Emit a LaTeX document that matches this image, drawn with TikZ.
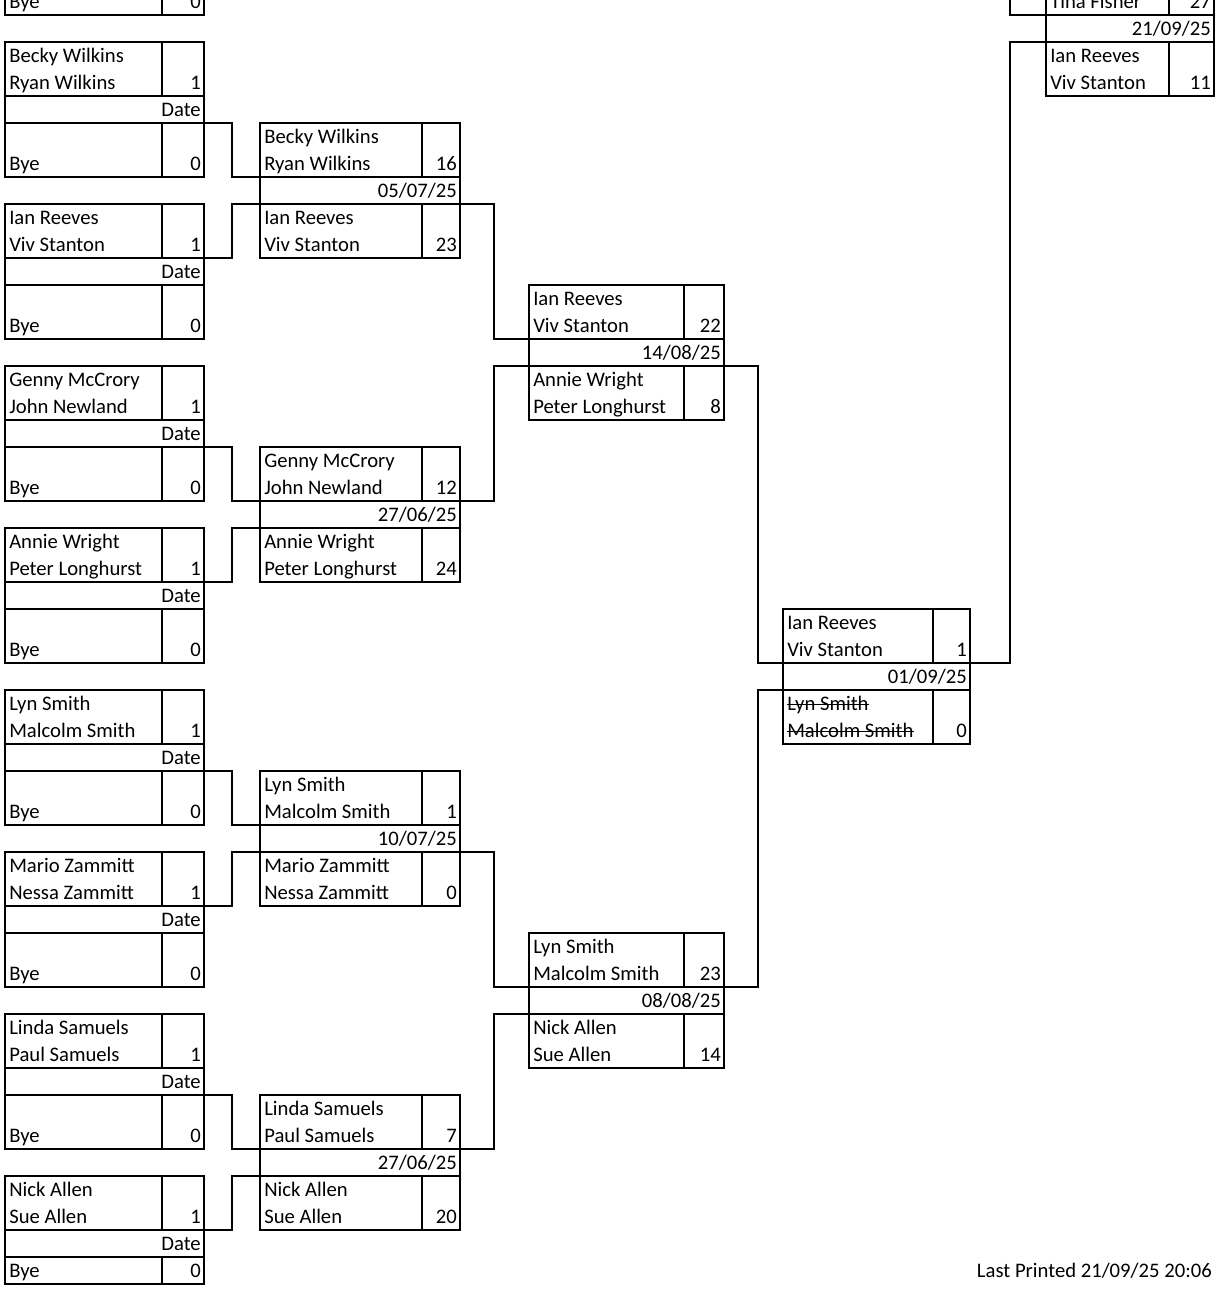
\documentclass[tikz,border=0pt]{standalone}
\usepackage{fontspec}
\setmainfont{Carlito}
\begin{document}
\begin{tikzpicture}[x=0.75pt,y=-0.75pt,
  frame/.style={line width=1.6pt},
  thin/.style={line width=0.8pt},
  conn/.style={line width=1.6pt},
  strike/.style={line width=0.7pt},
  txt/.style={font=\fontsize{15.5}{17}\selectfont,inner sep=0pt,anchor=base west},
  num/.style={font=\fontsize{15.5}{17}\selectfont,inner sep=0pt,anchor=base east}]
\useasboundingbox (0,0) rectangle (1228,1292);
\clip (0,0) rectangle (1228,1292);
\newcommand\mtch[9]{%
  \draw[frame] (#2,#5) rectangle (#3,#5+135);
  \draw[thin] (#2,#5+54) -- (#3,#5+54) (#2,#5+81) -- (#3,#5+81);
  \draw[thin] (#4,#5) -- (#4,#5+54) (#4,#5+81) -- (#4,#5+135);
  \node[txt] (#1a1) at (#2+4,#5+20) {#6};
  \node[txt] (#1a2) at (#2+4,#5+47) {#7};
  \node[num] (#1sa) at (#3-3,#5+47) {#8};
  \node[num] (#1d) at (#3-3,#5+74) {#9};
  \def\curname{#1}\def\curx{#2}\def\curr{#3}\def\curt{#5}}
\newcommand\teamb[3]{%
  \node[txt] (\curname b1) at (\curx+4,\curt+101) {#1};
  \node[txt] (\curname b2) at (\curx+4,\curt+128) {#2};
  \node[num] (\curname sb) at (\curr-3,\curt+128) {#3};}
% Round 1
\mtch{m0}{5}{204}{162}{-120}{}{}{}{Date}\teamb{}{Bye}{0}
\mtch{m1}{5}{204}{162}{42}{Becky Wilkins}{Ryan Wilkins}{1}{Date}\teamb{}{Bye}{0}
\mtch{m2}{5}{204}{162}{204}{Ian Reeves}{Viv Stanton}{1}{Date}\teamb{}{Bye}{0}
\mtch{m3}{5}{204}{162}{366}{Genny McCrory}{John Newland}{1}{Date}\teamb{}{Bye}{0}
\mtch{m4}{5}{204}{162}{528}{Annie Wright}{Peter Longhurst}{1}{Date}\teamb{}{Bye}{0}
\mtch{m5}{5}{204}{162}{690}{Lyn Smith}{Malcolm Smith}{1}{Date}\teamb{}{Bye}{0}
\mtch{m6}{5}{204}{162}{852}{Mario Zammitt}{Nessa Zammitt}{1}{Date}\teamb{}{Bye}{0}
\mtch{m7}{5}{204}{162}{1014}{Linda Samuels}{Paul Samuels}{1}{Date}\teamb{}{Bye}{0}
\draw[frame] (5,1176) rectangle (204,1284);
\draw[thin] (5,1230) -- (204,1230) (5,1257) -- (204,1257);
\draw[thin] (162,1176) -- (162,1230) (162,1257) -- (162,1284);
\node[txt] (m8a1) at (9,1196) {Nick Allen};
\node[txt] (m8a2) at (9,1223) {Sue Allen};
\node[num] (m8sa) at (201,1223) {1};
\node[num] (m8d) at (201,1250) {Date};
\node[txt] (m8b2) at (9,1277) {Bye};
\node[num] (m8sb) at (201,1277) {0};
% Round 2
\mtch{r0}{260}{460}{422}{123}{Becky Wilkins}{Ryan Wilkins}{16}{05/07/25}\teamb{Ian Reeves}{Viv Stanton}{23}
\mtch{r1}{260}{460}{422}{447}{Genny McCrory}{John Newland}{12}{27/06/25}\teamb{Annie Wright}{Peter Longhurst}{24}
\mtch{r2}{260}{460}{422}{771}{Lyn Smith}{Malcolm Smith}{1}{10/07/25}\teamb{Mario Zammitt}{Nessa Zammitt}{0}
\mtch{r3}{260}{460}{422}{1095}{Linda Samuels}{Paul Samuels}{7}{27/06/25}\teamb{Nick Allen}{Sue Allen}{20}
% Round 3
\mtch{q0}{529}{724}{684}{285}{Ian Reeves}{Viv Stanton}{22}{14/08/25}\teamb{Annie Wright}{Peter Longhurst}{8}
\mtch{q1}{529}{724}{684}{933}{Lyn Smith}{Malcolm Smith}{23}{08/08/25}\teamb{Nick Allen}{Sue Allen}{14}
% Round 4
\mtch{s0}{783}{970}{933}{609}{Ian Reeves}{Viv Stanton}{1}{01/09/25}\teamb{Lyn Smith}{Malcolm Smith}{0}
\draw[strike] ([yshift=4pt]s0b1.base west) -- ([yshift=4pt]s0b1.base east);
\draw[strike] ([yshift=4pt]s0b2.base west) -- ([yshift=4pt]s0b2.base east);
% Round 5
\mtch{f0}{1046}{1214}{1169}{-39}{}{Tina Fisher}{27}{21/09/25}\teamb{Ian Reeves}{Viv Stanton}{11}
% connectors
\draw[conn] (204,123) -- (232,123) |- (260,177);
\draw[conn] (204,258) -- (232,258) |- (260,204);
\draw[conn] (204,447) -- (232,447) |- (260,501);
\draw[conn] (204,582) -- (232,582) |- (260,528);
\draw[conn] (204,771) -- (232,771) |- (260,825);
\draw[conn] (204,906) -- (232,906) |- (260,852);
\draw[conn] (204,1095) -- (232,1095) |- (260,1149);
\draw[conn] (204,1230) -- (232,1230) |- (260,1176);
\draw[conn] (460,204) -- (494,204) |- (529,339);
\draw[conn] (460,501) -- (494,501) |- (529,366);
\draw[conn] (460,852) -- (494,852) |- (529,987);
\draw[conn] (460,1149) -- (494,1149) |- (529,1014);
\draw[conn] (724,366) -- (758,366) |- (783,663);
\draw[conn] (724,987) -- (758,987) |- (783,690);
\draw[conn] (970,663) -- (1010,663) |- (1046,42);
\coordinate (top) at (1010,-20);
\draw[conn] (top) |- (1046,15);
\node[num] (lp) at (1212,1277) {Last Printed 21/09/25 20:06};
\end{tikzpicture}
\end{document}
